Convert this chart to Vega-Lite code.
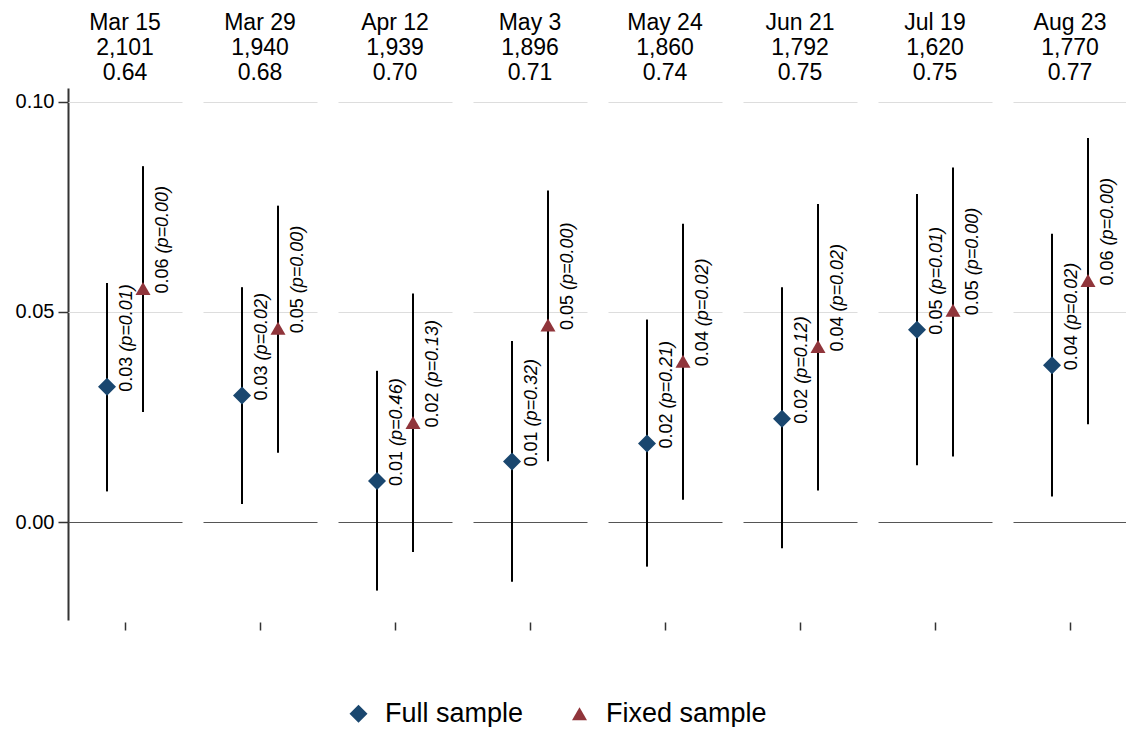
{
  "$schema": "https://vega.github.io/schema/vega-lite/v6.json",
  "padding": {"left": 15, "top": 12, "right": 0, "bottom": 0},
  "background": "white",
  "data": {"values": [
    {"panel": "Mar 15|2,101|0.64", "series": "Full sample", "est": 0.0322, "lo": 0.0073, "hi": 0.0569, "est_txt": "0.03", "p_txt": "(p=0.01)"},
    {"panel": "Mar 15|2,101|0.64", "series": "Fixed sample", "est": 0.0556, "lo": 0.0262, "hi": 0.0847, "est_txt": "0.06", "p_txt": "(p=0.00)"},
    {"panel": "Mar 29|1,940|0.68", "series": "Full sample", "est": 0.0301, "lo": 0.0043, "hi": 0.0559, "est_txt": "0.03", "p_txt": "(p=0.02)"},
    {"panel": "Mar 29|1,940|0.68", "series": "Fixed sample", "est": 0.0461, "lo": 0.0165, "hi": 0.0753, "est_txt": "0.05", "p_txt": "(p=0.00)"},
    {"panel": "Apr 12|1,939|0.70", "series": "Full sample", "est": 0.0098, "lo": -0.0163, "hi": 0.0360, "est_txt": "0.01", "p_txt": "(p=0.46)"},
    {"panel": "Apr 12|1,939|0.70", "series": "Fixed sample", "est": 0.0237, "lo": -0.0071, "hi": 0.0544, "est_txt": "0.02", "p_txt": "(p=0.13)"},
    {"panel": "May 3|1,896|0.71", "series": "Full sample", "est": 0.0144, "lo": -0.0142, "hi": 0.0431, "est_txt": "0.01", "p_txt": "(p=0.32)"},
    {"panel": "May 3|1,896|0.71", "series": "Fixed sample", "est": 0.0469, "lo": 0.0145, "hi": 0.0789, "est_txt": "0.05", "p_txt": "(p=0.00)"},
    {"panel": "May 24|1,860|0.74", "series": "Full sample", "est": 0.0187, "lo": -0.0106, "hi": 0.0482, "est_txt": "0.02", "p_txt": "(p=0.21)"},
    {"panel": "May 24|1,860|0.74", "series": "Fixed sample", "est": 0.0383, "lo": 0.0053, "hi": 0.0710, "est_txt": "0.04", "p_txt": "(p=0.02)"},
    {"panel": "Jun 21|1,792|0.75", "series": "Full sample", "est": 0.0246, "lo": -0.0062, "hi": 0.0559, "est_txt": "0.02", "p_txt": "(p=0.12)"},
    {"panel": "Jun 21|1,792|0.75", "series": "Fixed sample", "est": 0.0418, "lo": 0.0075, "hi": 0.0757, "est_txt": "0.04", "p_txt": "(p=0.02)"},
    {"panel": "Jul 19|1,620|0.75", "series": "Full sample", "est": 0.0458, "lo": 0.0135, "hi": 0.0781, "est_txt": "0.05", "p_txt": "(p=0.01)"},
    {"panel": "Jul 19|1,620|0.75", "series": "Fixed sample", "est": 0.0504, "lo": 0.0156, "hi": 0.0844, "est_txt": "0.05", "p_txt": "(p=0.00)"},
    {"panel": "Aug 23|1,770|0.77", "series": "Full sample", "est": 0.0373, "lo": 0.0061, "hi": 0.0686, "est_txt": "0.04", "p_txt": "(p=0.02)"},
    {"panel": "Aug 23|1,770|0.77", "series": "Fixed sample", "est": 0.0575, "lo": 0.0233, "hi": 0.0914, "est_txt": "0.06", "p_txt": "(p=0.00)"}
  ]},
  "facet": {
    "column": {
      "field": "panel",
      "type": "nominal",
      "sort": ["Mar 15|2,101|0.64", "Mar 29|1,940|0.68", "Apr 12|1,939|0.70", "May 3|1,896|0.71", "May 24|1,860|0.74", "Jun 21|1,792|0.75", "Jul 19|1,620|0.75", "Aug 23|1,770|0.77"],
      "header": {
        "title": null,
        "labelExpr": "split(datum.value, '|')",
        "labelFontSize": 23,
        "labelLineHeight": 25,
        "labelFont": "Liberation Sans",
        "labelColor": "#000000",
        "labelPadding": 3
      }
    }
  },
  "spacing": 21,
  "spec": {
    "width": 114,
    "height": 532,
    "encoding": {
      "x": {
        "datum": "mid",
        "type": "nominal",
        "scale": {"type": "band", "paddingInner": 0, "paddingOuter": 0},
        "axis": {"title": null, "labels": false, "domain": false, "ticks": true, "tickSize": 8, "tickColor": "#333333", "tickWidth": 1.5, "offset": 2, "grid": false}
      },
      "xOffset": {
        "field": "series",
        "type": "nominal",
        "scale": {"domain": ["Full sample", "Fixed sample"], "paddingInner": 0, "paddingOuter": 0.5833}
      }
    },
    "layer": [
      {
        "mark": {"type": "rule", "color": "#000000", "strokeWidth": 2},
        "encoding": {
          "y": {
            "field": "lo", "type": "quantitative", "title": null,
            "scale": {"domain": [-0.0233, 0.1033], "nice": false, "zero": false},
            "axis": {
              "title": null, "values": [0, 0.05, 0.1], "format": ".2f",
              "labelFontSize": 20, "labelFont": "Liberation Sans", "labelColor": "#000000", "labelPadding": 4,
              "domainColor": "#333333", "domainWidth": 2,
              "tickColor": "#333333", "tickSize": 10, "tickWidth": 1.5,
              "grid": true,
              "gridColor": {"condition": {"test": "datum.value === 0", "value": "#555555"}, "value": "#dddddd"},
              "gridWidth": 1
            }
          },
          "y2": {"field": "hi"}
        }
      },
      {
        "mark": {"type": "point", "filled": true, "opacity": 1},
        "encoding": {
          "y": {"field": "est", "type": "quantitative", "title": null},
          "color": {
            "field": "series", "type": "nominal",
            "scale": {"domain": ["Full sample", "Fixed sample"], "range": ["#1a476f", "#90353b"]},
            "legend": {"title": null, "orient": "none", "direction": "horizontal", "legendX": 277, "legendY": 612, "labelFontSize": 27, "labelFont": "Liberation Sans", "labelColor": "#000000", "labelOffset": 13, "labelLimit": 400, "columnPadding": 42, "symbolSize": 420}
          },
          "shape": {
            "field": "series", "type": "nominal",
            "scale": {"domain": ["Full sample", "Fixed sample"], "range": ["diamond", "triangle-up"]},
            "legend": {"title": null, "orient": "none", "direction": "horizontal", "legendX": 277, "legendY": 612, "labelFontSize": 27, "labelFont": "Liberation Sans", "labelColor": "#000000", "labelOffset": 13, "labelLimit": 400, "columnPadding": 42, "symbolSize": 420}
          },
          "size": {
            "field": "series", "type": "nominal",
            "scale": {"domain": ["Full sample", "Fixed sample"], "range": [324, 225]},
            "legend": null
          }
        }
      },
      {
        "mark": {"type": "text", "angle": 270, "align": "left", "baseline": "top", "dx": -5, "dy": 11, "fontSize": 18, "font": "Liberation Sans", "color": "#000000"},
        "encoding": {
          "y": {"field": "est", "type": "quantitative", "title": null},
          "text": {"field": "est_txt"}
        }
      },
      {
        "mark": {"type": "text", "angle": 270, "align": "left", "baseline": "top", "dx": 35, "dy": 11, "fontSize": 18, "font": "Liberation Sans", "fontStyle": "italic", "color": "#000000"},
        "encoding": {
          "y": {"field": "est", "type": "quantitative", "title": null},
          "text": {"field": "p_txt"}
        }
      }
    ]
  },
  "config": {
    "view": {"stroke": null},
    "font": "Liberation Sans"
  }
}
